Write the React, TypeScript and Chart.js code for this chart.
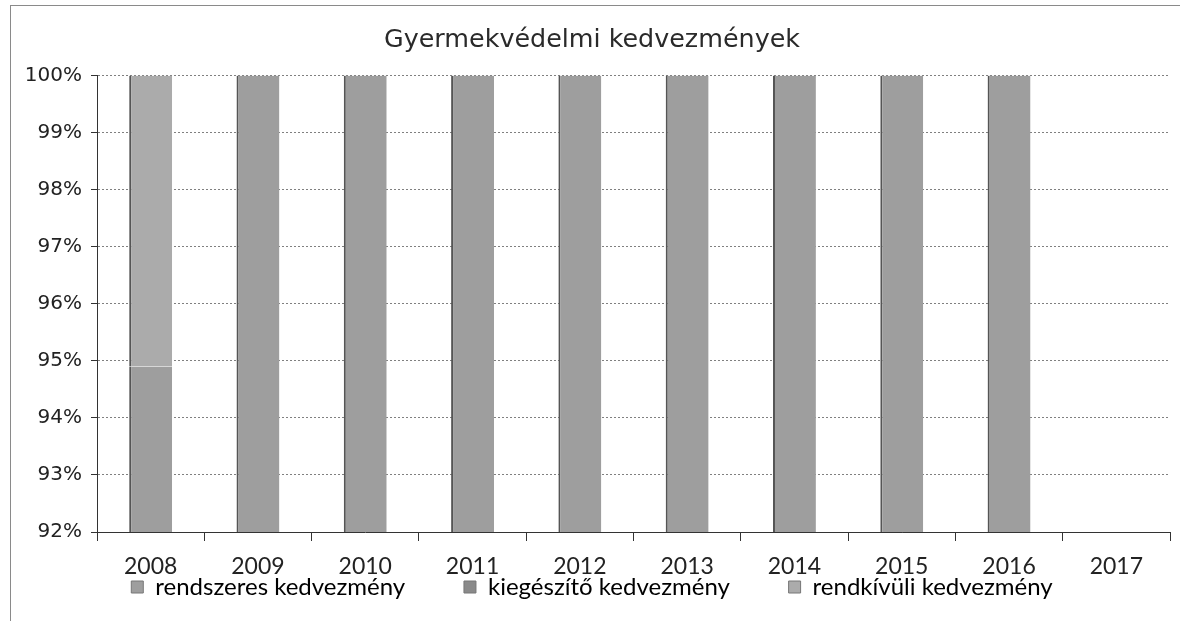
import React, { useEffect, useRef } from "react";
import { Chart, registerables } from "chart.js";

Chart.register(...registerables);

const years = ["2008", "2009", "2010", "2011", "2012", "2013", "2014", "2015", "2016", "2017"];
const rendszeres = [94.9, 100, 100, 100, 100, 100, 100, 100, 100, null];
const kiegeszito = [0, 0, 0, 0, 0, 0, 0, 0, 0, null];
const rendkivuli = [5.1, 0, 0, 0, 0, 0, 0, 0, 0, null];
const seriesNames = ["rendszeres kedvezmény", "kiegészítő kedvezmény", "rendkívüli kedvezmény"];
const yTicks = [92, 93, 94, 95, 96, 97, 98, 99, 100];
const title = "Gyermekvédelmi kedvezmények";

const colors = ["#9e9e9e", "#8a8a8a", "#ababab"];
const humanist = "Lato, 'Open Sans', sans-serif";

const legendShift = {
  id: "legendShift",
  afterLayout(chart: any) {
    const lg = chart.legend;
    if (lg) {
      lg.top -= 7;
      lg.bottom -= 7;
    }
  },
};

export default function App() {
  const ref = useRef<HTMLCanvasElement | null>(null);
  useEffect(() => {
    if (!ref.current) return;
    const mk = (label: string, data: (number | null)[], i: number) => ({
      label,
      data,
      backgroundColor: colors[i],
      borderColor: "#555",
      borderWidth: { left: 2, right: 0, top: 0, bottom: 0 },
      borderSkipped: false,
      barPercentage: 0.8,
      categoryPercentage: 0.5,
    });
    const chart = new Chart(ref.current, {
      type: "bar",
      data: {
        labels: years,
        datasets: [
          mk(seriesNames[0], rendszeres, 0),
          mk(seriesNames[1], kiegeszito, 1),
          mk(seriesNames[2], rendkivuli, 2),
        ],
      },
      plugins: [legendShift],
      options: {
        animation: false,
        responsive: false,
        layout: { padding: { left: 14, right: 10, top: 0, bottom: 5 } },
        plugins: {
          title: {
            display: true,
            text: title,
            color: "#2a2a2a",
            font: { family: "'DejaVu Sans', sans-serif", size: 25.4, weight: "normal" },
            padding: { top: 25, bottom: 20 },
          },
          legend: {
            position: "bottom",
            labels: {
              color: "#222",
              font: { family: humanist, size: 24 },
              boxWidth: 12,
              boxHeight: 12,
              padding: 4,
              generateLabels: (c: any) =>
                c.data.datasets.map((ds: any, i: number) => ({
                  text: i < 2 ? ds.label + "\u00A0".repeat(9) : ds.label,
                  fillStyle: ds.backgroundColor,
                  strokeStyle: "#777",
                  lineWidth: 1,
                  datasetIndex: i,
                  hidden: false,
                })),
            },
          },
          tooltip: { enabled: false },
        },
        scales: {
          x: {
            stacked: true,
            grid: {
              offset: true,
              drawOnChartArea: false,
              drawTicks: true,
              tickLength: 9,
              tickColor: "#333",
            },
            border: { display: true, color: "#333", width: 1 },
            ticks: {
              color: "#222",
              font: { family: humanist, size: 23 },
              padding: 12,
              maxRotation: 0,
            },
            afterFit: (s: any) => {
              s.height = 46;
            },
          },
          y: {
            stacked: true,
            min: 92,
            max: 100,
            afterBuildTicks: (s: any) => {
              s.ticks = yTicks.map((v) => ({ value: v }));
            },
            ticks: {
              color: "#222",
              font: { family: "'DejaVu Sans', sans-serif", size: 20 },
              padding: 9,
              callback: (v: any) => v + "%",
            },
            grid: {
              color: "#808080",
              lineWidth: 1,
              tickLength: 6,
              tickColor: "#333",
              tickBorderDash: [],
            } as any,
            border: { display: true, color: "#333", width: 1, dash: [2, 2] } as any,
            afterFit: (s: any) => {
              s.width = 83;
            },
          },
        },
      } as any,
    });
    return () => chart.destroy();
  }, []);
  return (
    <div style={{ position: "absolute", left: 0, top: 0, width: 1180, height: 621, background: "#fff", overflow: "hidden" }}>
      <div
        style={{
          position: "absolute",
          left: 10,
          top: 5,
          width: 1180,
          height: 640,
          border: "1px solid #8a8a8a",
          boxSizing: "border-box",
        }}
      />
      <canvas ref={ref} width={1180} height={621} style={{ position: "absolute", left: 0, top: 0 }} />
    </div>
  );
}
